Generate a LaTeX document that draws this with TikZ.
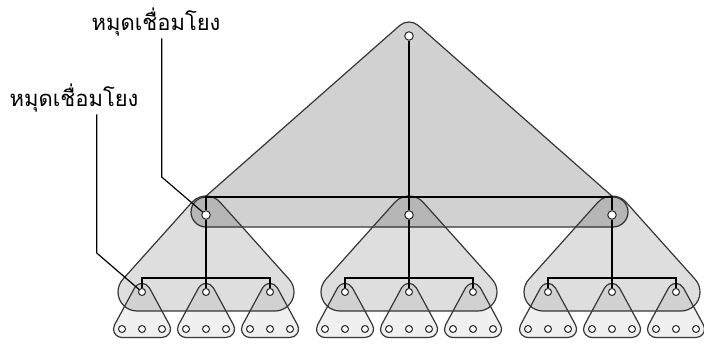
\documentclass[tikz,border=0pt]{standalone}
\usepackage{fontspec}
\newfontfamily\thaifont[Script=Thai]{Loma}
\usetikzlibrary{calc}
\definecolor{edgegray}{HTML}{363636}
% rounded triangle: style, x, apex y, base y, half base, radius
\newcommand{\treeshape}[6]{%
  \pgfmathsetmacro{\tsang}{atan2(#3-#4,#5)}%
  \path[#1] (#2-#5,#4-#6)
    arc[start angle=270, end angle=\tsang+90, radius=#6]
    -- ++(#5,#3-#4)
    arc[start angle=\tsang+90, end angle=90-\tsang, radius=#6]
    -- ++(#5,#4-#3)
    arc[start angle=90-\tsang, end angle=-90, radius=#6]
    -- cycle;}

\begin{document}
\begin{tikzpicture}[
  x=1pt, y=1pt,
  blob/.style={draw=edgegray, line width=1.2pt, fill=black, line join=round},
  leafblob/.style={blob, fill opacity=0.06},
  midblob/.style={blob, fill opacity=0.13},
  topblob/.style={blob, fill opacity=0.18},
  dot/.style={circle, draw=black!85, fill=white, line width=1pt,
    inner sep=0pt, minimum size=7pt},
  bigdot/.style={dot, minimum size=8.5pt},
  link/.style={line width=1.2pt, black},
  lbl/.style={font=\thaifont\fontsize{22}{26}\selectfont, inner sep=2pt}
]
\useasboundingbox (0,0) rectangle (704,348);

% Top subtree and its bar
\path[topblob] (205,151) -- (399.75,322.51)
  arc[start angle=131.36, end angle=48.64, radius=14] -- (613,151) -- cycle;
\path[topblob, rounded corners=15pt] (191,121) rectangle (628,151);

% Middle subtrees and leaf groups
\foreach \i/\mx in {1/206, 2/409, 3/612} {
  \treeshape{midblob}{\mx}{133}{56}{69}{19}
  \foreach \j/\dx in {1/-64, 2/0, 3/64} {
    \pgfmathsetmacro{\cx}{\mx+\dx}
    \treeshape{leafblob}{\cx}{56}{19}{20}{8.5}
  }
}

% Nodes
\node[bigdot] (top) at (409,312) {};
\foreach \i/\mx in {1/206, 2/409, 3/612} {
  \node[bigdot] (m\i) at (\mx,133) {};
  \foreach \j/\dx in {1/-64, 2/0, 3/64} {
    \pgfmathsetmacro{\cx}{\mx+\dx}
    \node[dot] (c\i\j) at (\cx,56) {};
    \foreach \k/\lx in {1/-20, 2/0, 3/20} {
      \pgfmathsetmacro{\lfx}{\cx+\lx}
      \node[dot] (l\i\j\k) at (\lfx,19) {};
    }
  }
}

% Links
\coordinate (topjoin) at (409,151);
\draw[link] (top) -- (m2);
\draw[link] (m1) |- (topjoin) -| (m3);
\foreach \i in {1,2,3} {
  \coordinate (join\i) at ([yshift=-63pt]m\i.center);
  \draw[link] (m\i) -- (c\i2);
  \draw[link] (c\i1) |- (join\i) -| (c\i3);
}

% Labels
\node[lbl] (lab1) at (156,326) {หมุดเชื่อมโยง};
\node[lbl] (lab2) at (74,250) {หมุดเชื่อมโยง};
\coordinate (bend1) at (161.7,171);
\coordinate (bend2) at (96.7,95);
\draw[link] (lab1.south -| bend1) -- (bend1) -- (m1);
\draw[link] (lab2.south -| bend2) -- (bend2) -- (c11);

\end{tikzpicture}
\end{document}
